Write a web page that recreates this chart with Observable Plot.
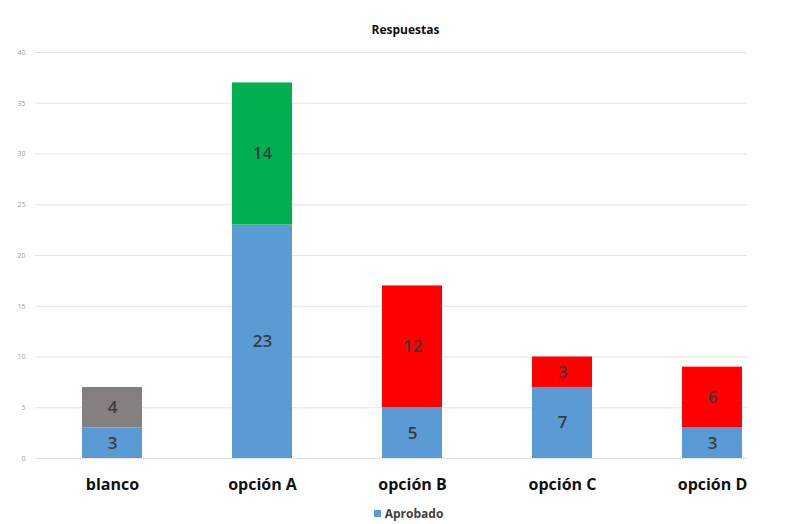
<!DOCTYPE html>
<html><head><meta charset="utf-8">
<script src="https://cdn.jsdelivr.net/npm/d3@7"></script>
<script src="https://cdn.jsdelivr.net/npm/@observablehq/plot@0.6"></script>
<style>
body{margin:0;background:#fff;font-family:"Open Sans",sans-serif;}
#legend{position:absolute;left:0;top:505px;width:787px;text-align:center;font-size:12px;font-weight:700;color:#404040;margin-left:15px}
#legend span.sw{display:inline-block;width:7px;height:7px;background:#5b9bd5;margin-right:4px;vertical-align:1px}
</style></head><body>
<div id="chart"></div>
<div id="legend"><span class="sw"></span>Aprobado</div>
<script>
const categories = ["blanco", "opción A", "opción B", "opción C", "opción D"];
const aprobado = [3, 23, 5, 7, 3];
const otros = [4, 14, 12, 3, 6];
const yTicks = [0, 5, 10, 15, 20, 25, 30, 35, 40];
const title = "Respuestas";

const topColor = {"blanco": "#877f7e", "opción A": "#00b050"};
const rows = [];
categories.forEach((c, i) => {
  rows.push({cat: c, value: aprobado[i], color: "#5b9bd5"});
  rows.push({cat: c, value: otros[i], color: topColor[c] || "#ff0000"});
});

const chart = Plot.plot({
  width: 787, height: 500,
  marginTop: 52, marginBottom: 42, marginLeft: 35, marginRight: 40,
  style: {fontFamily: "Open Sans, sans-serif", background: "#fff"},
  x: {domain: categories, paddingInner: 0.6, paddingOuter: 0.167, align: 0.9, label: null, tickSize: 0},
  y: {domain: [0, 40], ticks: yTicks, label: null, tickSize: 0, tickPadding: 10},
  color: {type: "identity"},
  marks: [
    Plot.gridY(yTicks, {stroke: "#e3e3e3", strokeOpacity: 1}),
    Plot.barY(rows, {x: "cat", y: "value", fill: "color"}),
    Plot.text(rows, Plot.stackY({x: "cat", y: "value", text: "value", fill: "#3a3a3a", fontSize: 17, fontWeight: 600})),
    Plot.axisY(yTicks, {tickSize: 0, tickPadding: 10, fontSize: 7, fill: "#a0a0a0", label: null}),
    Plot.axisX({tickSize: 0, tickPadding: 20, fontSize: 16, fontWeight: 700, fill: "#111", label: null}),
    Plot.text([title], {frameAnchor: "top", dy: -27, dx: 14, fontSize: 12, fontWeight: 700, fill: "#111"})
  ]
});
document.getElementById("chart").appendChild(chart);
</script>
</body></html>
